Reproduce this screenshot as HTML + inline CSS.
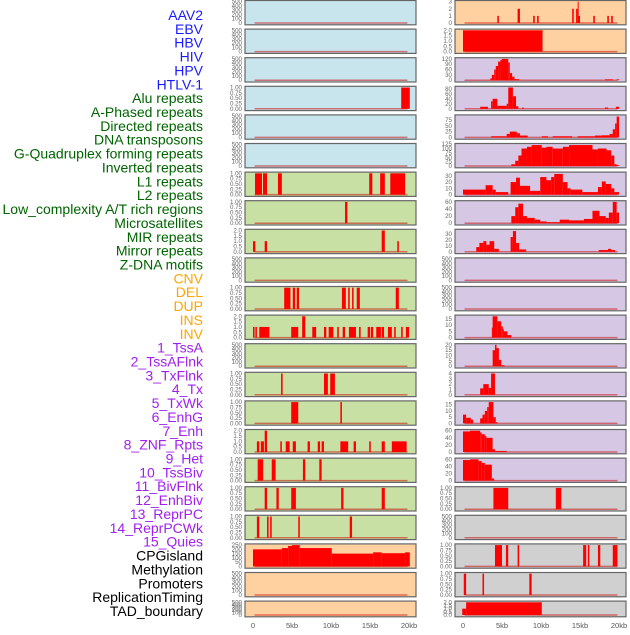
<!DOCTYPE html>
<html><head><meta charset="utf-8"><style>
body{margin:0;width:630px;height:630px;background:#fff;overflow:hidden;font-family:"Liberation Sans",sans-serif}
</style></head><body>
<svg id="chart" width="630" height="630" xmlns="http://www.w3.org/2000/svg"></svg>
<script>
const trackNames=["AAV2","EBV","HBV","HIV","HPV","HTLV-1","Alu repeats","A-Phased repeats","Directed repeats","DNA transposons","G-Quadruplex forming repeats","Inverted repeats","L1 repeats","L2 repeats","Low_complexity A/T rich regions","Microsatellites","MIR repeats","Mirror repeats","Z-DNA motifs","CNV","DEL","DUP","INS","INV","1_TssA","2_TssAFlnk","3_TxFlnk","4_Tx","5_TxWk","6_EnhG","7_Enh","8_ZNF_Rpts","9_Het","10_TssBiv","11_BivFlnk","12_EnhBiv","13_ReprPC","14_ReprPCWk","15_Quies","CPGisland","Methylation","Promoters","ReplicationTiming","TAD_boundary"];
const groupOf=["v","v","v","v","v","v","r","r","r","r","r","r","r","r","r","r","r","r","r","s","s","s","s","s","c","c","c","c","c","c","c","c","c","c","c","c","c","c","c","o","o","o","o","o"];
const labelColors={v:"#1a1aff",r:"#006400",s:"#ffa500",c:"#a020f0",o:"#000000"};
const panelColors={v:"#c8e4ec",r:"#c8e0a4",s:"#ffd0a0",c:"#d6c8e4",o:"#d0d0d0"};
const xTicks=[0,5,10,15,20];
const xTickLabels=["0","5kb","10kb","15kb","20kb"];
const emptyTicks=[0,100,200,300,400,500];
const unitTicks=[0,0.25,0.5,0.75,1];
const twoTicks=[0,0.5,1,1.5,2];
// segments: [startKb,endKb,value]
const segAlu=[[0.26,1.15,1],[1.28,1.8,1],[3.2,3.7,1],[14.9,15.3,1],[16.3,16.9,1],[17.6,19.5,1]];
const segHIV=[[19,20.1,1]];
const segAPhased=[[11.8,12.1,1]];
const segDirected=[[0,0.3,1],[1.5,1.8,1],[16.5,16.9,2],[18.5,18.7,1]];
const segGQuad=[[4.0,4.8,1],[5.1,5.4,1],[5.6,5.9,1],[11.4,11.9,1],[12.2,12.4,1],[12.7,12.9,1],[13.3,13.7,1],[18.3,18.7,1]];
const segInverted=[[0,0.2,1],[0.3,0.5,1],[0.8,2.1,1],[4.9,5.8,1],[6.3,6.7,2],[7.6,8.1,1],[9.1,9.4,1],[9.7,10.3,1],[10.8,11.0,1],[11.5,11.8,1],[12.3,13.2,1],[13.6,13.8,1],[14.7,15.0,1],[15.1,15.4,1],[15.8,16.4,1],[16.5,16.8,1],[17.3,17.8,1],[18.1,18.3,1],[19.0,19.2,1],[19.6,20.0,1]];
const segL2=[[3.6,3.8,1],[9.1,9.6,1],[9.9,10.5,1]];
const segLowComplex=[[4.9,5.8,1],[11.2,11.4,1]];
const segMicrosat=[[0.5,0.8,1],[1.0,1.4,1],[1.5,1.8,2],[3.5,3.7,1],[4.2,4.7,1],[5.1,5.5,1],[7.0,7.3,1],[8.3,8.6,1],[8.8,9.1,1],[11.2,12.2,1],[12.9,13.2,1],[14.9,15.1,1],[16.5,16.9,1],[17.8,19.7,1]];
const segMIR=[[0.6,1.3,1],[2.4,2.9,1],[6.4,6.7,1],[8.5,8.8,1]];
const segMirror=[[1.5,1.8,1],[3.0,3.3,1],[4.9,5.5,1],[11.3,11.6,1],[16.5,16.9,1]];
const segZDNA=[[0.5,0.8,1],[1.8,2.0,1],[2.2,2.4,1],[5.8,6.0,1],[12.4,12.7,1]];
const segCNV=[[0,3.7,200],[3.7,4.5,215],[4.5,5.0,240],[5.0,6.0,250],[6.0,10.1,215],[10.1,15.4,150],[15.4,16.5,165],[16.5,19.5,155],[19.5,20.1,165]];
const segINS=[[4.4,4.6,1],[7.0,7.3,2],[9.0,9.2,1],[9.5,9.7,1],[14.0,14.2,2],[14.5,14.7,2],[14.7,14.8,3],[14.8,15.0,1],[16.7,16.9,1],[18.5,18.7,1],[19.0,19.2,1]];
const segINV=[[0,10.2,2]];
const segTssA=[[3.5,3.7,10],[3.7,4.0,30],[4.0,4.2,60],[4.2,4.5,80],[4.5,4.8,105],[4.8,5.0,115],[5.0,5.8,120],[5.8,6.0,100],[6.0,6.3,40],[6.3,6.6,20],[6.6,7.2,6],[18.2,19.2,5],[19.7,20.0,5]];
const segTssAFlnk=[[2.2,3.2,8],[3.6,3.8,30],[3.8,4.4,40],[4.4,5.6,12],[5.6,5.8,20],[5.8,6.4,85],[6.4,6.8,50],[6.8,7.1,10],[7.6,7.8,5],[18.2,18.6,5],[19.6,20.0,8]];
const segTxFlnk=[[3.6,5.6,5],[5.6,6.0,15],[6.0,6.9,25],[6.9,7.3,18],[7.3,8.3,8],[10.1,10.9,5],[11.5,14.0,5],[14.7,16.9,5],[16.9,17.8,8],[17.8,18.8,9],[18.8,19.2,15],[19.2,19.5,35],[19.5,19.7,60],[19.7,20.0,90]];
const segTx=[[6.2,6.7,10],[6.7,7.1,30],[7.1,7.5,60],[7.5,8.2,100],[8.2,8.8,110],[8.8,10.1,120],[10.1,10.7,105],[10.7,11.5,110],[11.5,12.8,100],[12.8,13.6,110],[13.6,16.6,120],[16.6,17.3,95],[17.3,18.4,100],[18.4,19.0,90],[19.0,19.4,60],[19.4,19.7,10],[19.7,20.0,5]];
const segTxWk=[[0,2.9,8],[2.9,3.8,15],[3.8,4.2,8],[4.2,5.8,4],[6.1,6.8,20],[6.8,7.3,27],[7.3,8.6,14],[8.6,9.9,6],[9.9,10.7,28],[10.7,11.3,23],[11.3,11.7,28],[11.7,12.8,33],[12.8,13.4,20],[13.4,13.8,10],[13.8,15.3,8],[15.3,17.3,4],[17.3,17.8,12],[17.8,18.3,21],[18.3,19.0,17],[19.0,19.4,10],[19.4,20.0,4]];
const segEnhG=[[6.2,6.7,20],[6.7,7.1,45],[7.1,7.7,55],[7.7,8.2,20],[8.2,9.2,15],[9.2,9.9,10],[9.9,10.7,5],[10.7,12.4,3],[12.4,13.6,10],[13.6,15.5,8],[15.5,16.6,12],[16.6,17.5,35],[17.5,18.3,20],[18.3,18.7,15],[18.7,19.2,30],[19.2,19.7,60],[19.7,20.0,30]];
const segEnh=[[1.7,2.1,8],[2.1,2.6,15],[2.6,3.0,18],[3.0,3.4,12],[3.4,4.0,18],[4.0,4.6,5],[6.1,6.4,25],[6.4,6.8,35],[6.8,7.2,15],[7.2,8.1,4],[17.4,18.6,3],[18.6,19.0,5],[19.0,19.5,3]];
const segTssBiv=[[3.7,3.8,8],[3.8,4.4,17],[4.4,4.9,13],[4.9,5.1,9],[5.1,5.2,7],[5.2,5.7,5],[5.7,6.2,2]];
const segBivFlnk=[[3.8,4.1,15],[4.1,4.3,20],[4.3,4.6,17],[4.6,4.9,6],[4.9,5.3,1]];
const segEnhBiv=[[2.2,2.6,1.2],[2.6,3.3,2],[3.3,3.6,1.3],[3.6,4.1,4]];
const segReprPC=[[0,0.4,7],[0.4,1.0,4.5],[1.0,1.3,3],[2.2,2.5,4],[2.5,2.8,7],[2.8,3.1,10],[3.1,3.3,13],[3.3,3.9,17],[3.9,4.2,5],[4.2,4.4,1]];
const segReprPCWk=[[0,0.9,58],[0.9,2.2,60],[2.2,2.4,55],[2.4,2.8,50],[2.8,3.0,45],[3.0,3.8,40],[3.8,4.1,8],[4.1,5.6,3]];
const segQuies=[[0,0.9,58],[0.9,2.0,60],[2.0,2.4,55],[2.4,2.8,50],[2.8,3.7,45],[3.7,4.0,6]];
const segCPG=[[3.9,5.8,1],[11.9,12.6,1]];
const segPromoters=[[4.1,5.0,1],[5.5,5.8,1],[7.0,7.2,1],[15.4,15.8,1],[16.0,16.2,1],[17.3,17.6,1],[19.2,19.8,1]];
const segRepTiming=[[0.1,0.4,1],[2.5,2.7,1],[8.5,8.8,1]];
const segTAD=[[-0.1,0.4,1],[0.4,10.1,2]];
const trackSegs=[[],[],[],segHIV,[],[],segAlu,segAPhased,segDirected,[],segGQuad,segInverted,[],segL2,segLowComplex,segMicrosat,segMIR,segMirror,segZDNA,segCNV,[],[],segINS,segINV,segTssA,segTssAFlnk,segTxFlnk,segTx,segTxWk,segEnhG,segEnh,[],[],segTssBiv,segBivFlnk,segEnhBiv,segReprPC,segReprPCWk,segQuies,segCPG,[],segPromoters,segRepTiming,segTAD];
const trackTicks=[emptyTicks,emptyTicks,emptyTicks,unitTicks,emptyTicks,emptyTicks,unitTicks,unitTicks,twoTicks,emptyTicks,unitTicks,twoTicks,emptyTicks,unitTicks,unitTicks,twoTicks,unitTicks,unitTicks,unitTicks,[0,50,100,150,200,250],emptyTicks,emptyTicks,[0,1,2,3],twoTicks,[0,30,60,90,120],[0,20,40,60,80],[0,25,50,75],[0,25,50,75,100,125],[0,10,20,30],[0,20,40,60],[0,10,20,30],emptyTicks,emptyTicks,[0,5,10,15],[0,5,10,15,20],[0,1,2,3,4],[0,5,10,15],[0,20,40,60],[0,20,40,60],unitTicks,emptyTicks,unitTicks,unitTicks,twoTicks];
const trackMax=[500,500,500,1,500,500,1,1,2,500,1,2,500,1,1,2,1,1,1,250,500,500,3,2,120,85,92,122,34,60,36,500,500,17,20,4,17,60,60,1,500,1,1,2];

const NS="http://www.w3.org/2000/svg";
const svg=document.getElementById('chart');
function mk(tag,attrs,parent){const e=document.createElementNS(NS,tag);for(const k in attrs)e.setAttribute(k,attrs[k]);(parent||svg).appendChild(e);return e;}
function fmt(t,ticks){const step=ticks[1]-ticks[0];if(step<0.5&&step%1!==0)return t.toFixed(2);if(step%1!==0)return t.toFixed(1);return String(t);}
const colX=[245,455], panelW=171, kbScale=7.8, rowStep=28.6;
function xScale(col,kb){return colX[col]+8+kb*kbScale;}

trackNames.forEach((n,i)=>{
  const t=mk('text',{x:203,y:15+i*13.86+5,'text-anchor':'end','font-size':'14',fill:labelColors[groupOf[i]]});
  t.textContent=n;
  
  
});

trackNames.forEach((n,i)=>{
  const col=i<22?0:1, row=i%22;
  const top=0.5+row*rowStep, h=row===21?15.7:24.3;
  const g=mk('g',{});
  
  
  mk('rect',{x:colX[col],y:top,width:panelW,height:h,fill:panelColors[groupOf[i]],stroke:'#666','stroke-width':1.2},g);
  const y0=top+h-1.8, y1=top+1.2, max=trackMax[i];
  const yScale=v=>y0-(v/max)*(y0-y1);
  mk('line',{x1:xScale(col,0.2),x2:xScale(col,19.8),y1:y0,y2:y0,stroke:'rgba(200,0,0,0.5)','stroke-width':1.5},g);
  trackSegs[i].forEach(s=>{
    const r=mk('rect',{x:xScale(col,s[0]),y:yScale(s[2]),width:Math.max(1,(s[1]-s[0])*kbScale),height:y0-yScale(s[2]),fill:'#ff0000'},g);
    
    
  });
  const ticks=trackTicks[i];
  ticks.forEach(t=>{
    const tt=mk('text',{x:colX[col]-3,y:yScale(t)+2,'text-anchor':'end','font-size':'6.2',fill:'#666'},g);
    tt.textContent=fmt(t,ticks);
  });
});
[0,1].forEach(col=>{
  xTicks.forEach((k,j)=>{
    const t=mk('text',{x:xScale(col,k),y:628,'text-anchor':'middle','font-size':'7.5',fill:'#555'});
    t.textContent=xTickLabels[j];
    
    
  });
});
</script>
</body></html>
